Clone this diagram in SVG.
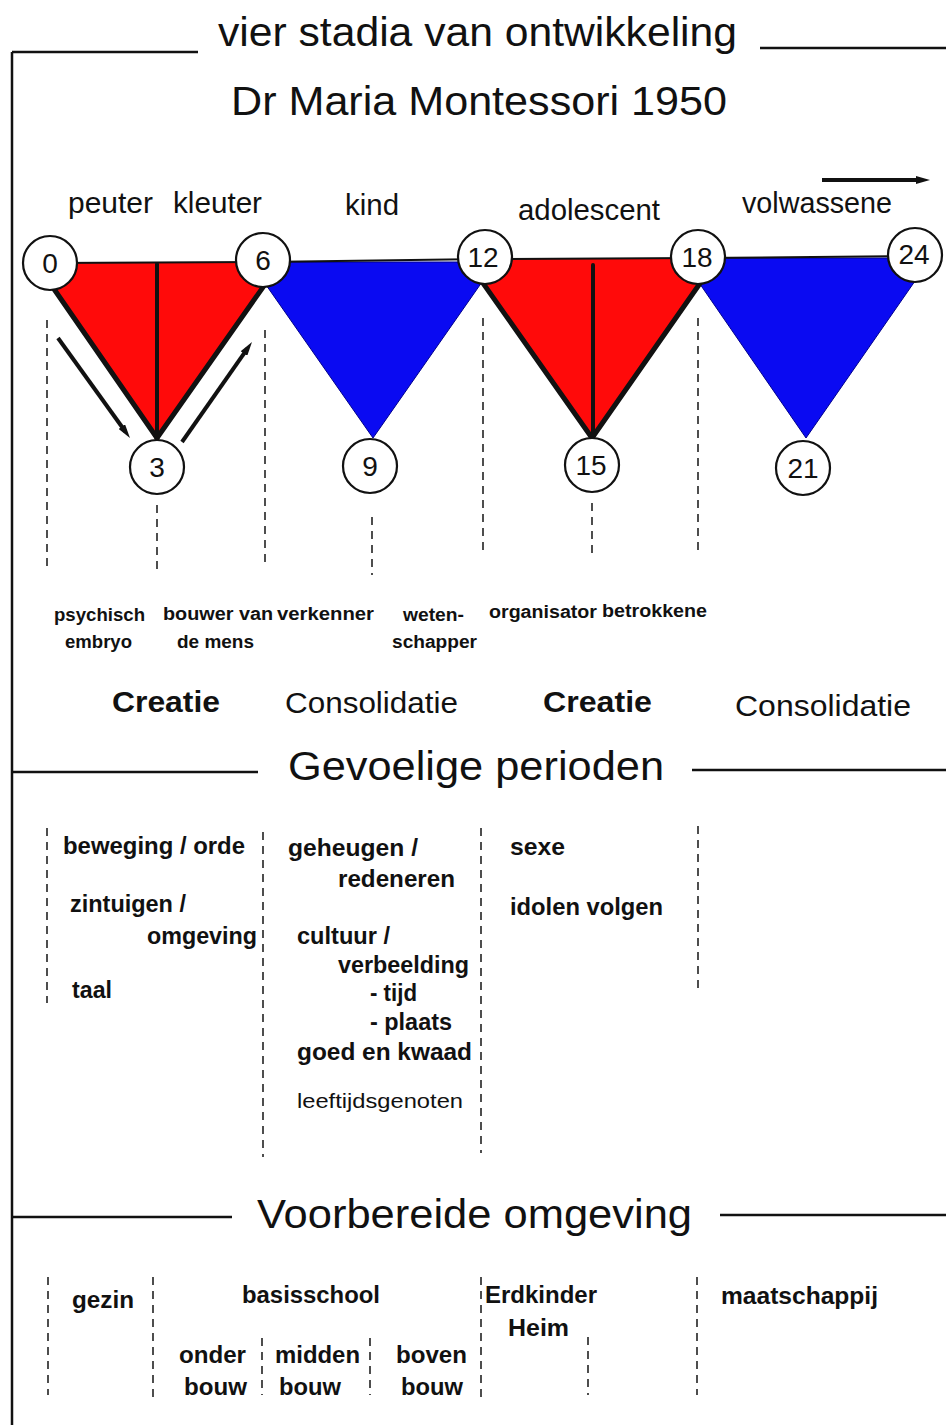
<svg xmlns="http://www.w3.org/2000/svg" width="946" height="1425" viewBox="0 0 946 1425">
<defs>
<style>
.t{font-family:"Liberation Sans",Arial,Helvetica,sans-serif;fill:#111}
.h{font-size:41px}
.lab{font-size:29px}
.role{font-size:18px;font-weight:bold}
.big{font-size:29px}
.b{font-weight:bold}
.sp{font-size:23px;font-weight:bold}
.num{font-size:28px;text-anchor:middle}
.frame{stroke:#111;stroke-width:2.5;fill:none}
.dash{stroke:#222;stroke-width:1.6;stroke-dasharray:8 6;fill:none}
.node{fill:#fff;stroke:#111;stroke-width:2.2}
.red{fill:#ff0a0a}
.blue{fill:#0a0af2;stroke:#00008c;stroke-width:1}
.edge{stroke:#111;stroke-width:5;stroke-linecap:round;fill:none}
.arr{stroke:#111;stroke-width:4;fill:none}
</style>
<marker id="ah" viewBox="0 0 14 8" refX="6" refY="4" markerWidth="14" markerHeight="8" markerUnits="userSpaceOnUse" orient="auto">
<path d="M0,0 L14,4 L0,8 z" fill="#111"/>
</marker>
</defs>
<rect width="946" height="1425" fill="#fff"/>

<g id="frame">
<line class="frame" x1="12" y1="52" x2="12" y2="1425"/>
<line class="frame" x1="12" y1="52" x2="198" y2="52"/>
<line class="frame" x1="760" y1="48" x2="946" y2="48"/>
<line class="frame" x1="12" y1="772" x2="258" y2="772"/>
<line class="frame" x1="692" y1="770" x2="946" y2="770"/>
<line class="frame" x1="12" y1="1217" x2="232" y2="1217"/>
<line class="frame" x1="720" y1="1215" x2="946" y2="1215"/>
</g>

<g id="titles">
<text class="t h" x="218" y="46" textLength="519" lengthAdjust="spacingAndGlyphs">vier stadia van ontwikkeling</text>
<text class="t h" x="231" y="115" textLength="496" lengthAdjust="spacingAndGlyphs">Dr Maria Montessori 1950</text>
<text class="t h" x="288" y="780" textLength="376" lengthAdjust="spacingAndGlyphs">Gevoelige perioden</text>
<text class="t h" x="257" y="1228" textLength="435" lengthAdjust="spacingAndGlyphs">Voorbereide omgeving</text>
</g>

<g id="stage-labels">
<text class="t lab" x="68" y="213" textLength="85" lengthAdjust="spacingAndGlyphs">peuter</text>
<text class="t lab" x="173" y="213" textLength="89" lengthAdjust="spacingAndGlyphs">kleuter</text>
<text class="t lab" x="345" y="215" textLength="54" lengthAdjust="spacingAndGlyphs">kind</text>
<text class="t lab" x="518" y="220" textLength="142" lengthAdjust="spacingAndGlyphs">adolescent</text>
<text class="t lab" x="742" y="213" textLength="150" lengthAdjust="spacingAndGlyphs">volwassene</text>
</g>

<g id="triangles">
<polygon id="tri-0-6" class="red" points="36,263 280,263 157,438"/>
<polygon id="tri-6-12" class="blue" points="250,262 496,262 373,438"/>
<polygon id="tri-12-18" class="red" points="466,259 717,259 592,438"/>
<polygon id="tri-18-24" class="blue" points="682,258 931,258 806,438"/>
<polyline points="50,263 263,262 485,259 698,258 915,256" fill="none" stroke="#111" stroke-width="2"/>
<line class="edge" x1="36" y1="263" x2="157" y2="438"/>
<line class="edge" x1="280" y1="263" x2="157" y2="438"/>
<line class="edge" x1="157" y1="264" x2="157" y2="438" style="stroke-width:4"/>
<line class="edge" x1="466" y1="259" x2="592" y2="438"/>
<line class="edge" x1="717" y1="259" x2="592" y2="438"/>
<line class="edge" x1="593" y1="265" x2="593" y2="438" style="stroke-width:4"/>
</g>

<g id="connectors">
<line class="arr" x1="58" y1="338" x2="125.3" y2="431.5" marker-end="url(#ah)"/>
<line class="arr" x1="182" y1="442" x2="247.4" y2="348.6" marker-end="url(#ah)"/>
<line class="arr" x1="822" y1="180" x2="922" y2="180" marker-end="url(#ah)"/>
</g>

<g id="node-0"><circle class="node" cx="50" cy="263" r="27"/><text class="t num" x="50" y="273">0</text></g>
<g id="node-6"><circle class="node" cx="263" cy="260" r="27"/><text class="t num" x="263" y="270">6</text></g>
<g id="node-12"><circle class="node" cx="485" cy="257" r="27"/><text class="t num" x="483" y="267">12</text></g>
<g id="node-18"><circle class="node" cx="698" cy="257" r="27"/><text class="t num" x="697" y="267">18</text></g>
<g id="node-24"><circle class="node" cx="915" cy="255" r="27"/><text class="t num" x="914" y="264">24</text></g>
<g id="node-3"><circle class="node" cx="157" cy="467" r="27"/><text class="t num" x="157" y="477">3</text></g>
<g id="node-9"><circle class="node" cx="370" cy="466" r="27"/><text class="t num" x="370" y="476">9</text></g>
<g id="node-15"><circle class="node" cx="592" cy="465" r="27"/><text class="t num" x="591" y="475">15</text></g>
<g id="node-21"><circle class="node" cx="803" cy="468" r="27"/><text class="t num" x="803" y="478">21</text></g>

<g id="guides">
<line class="dash" x1="47" y1="320" x2="47" y2="568"/>
<line class="dash" x1="265" y1="330" x2="265" y2="568"/>
<line class="dash" x1="483" y1="318" x2="483" y2="556"/>
<line class="dash" x1="698" y1="318" x2="698" y2="556"/>
<line class="dash" x1="157" y1="505" x2="157" y2="570"/>
<line class="dash" x1="372" y1="517" x2="372" y2="575"/>
<line class="dash" x1="592" y1="503" x2="592" y2="553"/>

<line class="dash" x1="47" y1="828" x2="47" y2="1003"/>
<line class="dash" x1="263" y1="832" x2="263" y2="1157"/>
<line class="dash" x1="481" y1="828" x2="481" y2="1153"/>
<line class="dash" x1="698" y1="826" x2="698" y2="993"/>

<line class="dash" x1="48" y1="1277" x2="48" y2="1395"/>
<line class="dash" x1="153" y1="1277" x2="153" y2="1397"/>
<line class="dash" x1="262" y1="1338" x2="262" y2="1395"/>
<line class="dash" x1="370" y1="1338" x2="370" y2="1395"/>
<line class="dash" x1="481" y1="1277" x2="481" y2="1397"/>
<line class="dash" x1="588" y1="1337" x2="588" y2="1395"/>
<line class="dash" x1="697" y1="1277" x2="697" y2="1395"/>
</g>

<g id="roles">
<text class="t role" x="54" y="621" textLength="91" lengthAdjust="spacingAndGlyphs">psychisch</text>
<text class="t role" x="65" y="648" textLength="67" lengthAdjust="spacingAndGlyphs">embryo</text>
<text class="t role" x="163" y="620" textLength="110" lengthAdjust="spacingAndGlyphs">bouwer van</text>
<text class="t role" x="177" y="648" textLength="77" lengthAdjust="spacingAndGlyphs">de mens</text>
<text class="t role" x="277" y="620" textLength="97" lengthAdjust="spacingAndGlyphs">verkenner</text>
<text class="t role" x="403" y="621" textLength="61" lengthAdjust="spacingAndGlyphs">weten-</text>
<text class="t role" x="392" y="648" textLength="85" lengthAdjust="spacingAndGlyphs">schapper</text>
<text class="t role" x="489" y="618" textLength="108" lengthAdjust="spacingAndGlyphs">organisator</text>
<text class="t role" x="602" y="617" textLength="105" lengthAdjust="spacingAndGlyphs">betrokkene</text>
</g>

<g id="phases">
<text class="t big b" x="112" y="712" textLength="108" lengthAdjust="spacingAndGlyphs">Creatie</text>
<text class="t big" x="285" y="713" textLength="173" lengthAdjust="spacingAndGlyphs">Consolidatie</text>
<text class="t big b" x="543" y="712" textLength="109" lengthAdjust="spacingAndGlyphs">Creatie</text>
<text class="t big" x="735" y="716" textLength="176" lengthAdjust="spacingAndGlyphs">Consolidatie</text>
</g>

<g id="sensitive-periods">
<text class="t sp" x="63" y="854" textLength="182" lengthAdjust="spacingAndGlyphs">beweging / orde</text>
<text class="t sp" x="70" y="912" textLength="116" lengthAdjust="spacingAndGlyphs">zintuigen /</text>
<text class="t sp" x="147" y="944" textLength="110" lengthAdjust="spacingAndGlyphs">omgeving</text>
<text class="t sp" x="72" y="998" textLength="40" lengthAdjust="spacingAndGlyphs">taal</text>
<text class="t sp" x="288" y="856" textLength="130" lengthAdjust="spacingAndGlyphs">geheugen /</text>
<text class="t sp" x="338" y="887" textLength="117" lengthAdjust="spacingAndGlyphs">redeneren</text>
<text class="t sp" x="297" y="944" textLength="93" lengthAdjust="spacingAndGlyphs">cultuur /</text>
<text class="t sp" x="338" y="973" textLength="131" lengthAdjust="spacingAndGlyphs">verbeelding</text>
<text class="t sp" x="370" y="1001" textLength="47" lengthAdjust="spacingAndGlyphs">- tijd</text>
<text class="t sp" x="370" y="1030" textLength="82" lengthAdjust="spacingAndGlyphs">- plaats</text>
<text class="t sp" x="297" y="1060" textLength="175" lengthAdjust="spacingAndGlyphs">goed en kwaad</text>
<text class="t" x="297" y="1108" style="font-size:21px" textLength="166" lengthAdjust="spacingAndGlyphs">leeftijdsgenoten</text>
<text class="t sp" x="510" y="855" textLength="55" lengthAdjust="spacingAndGlyphs">sexe</text>
<text class="t sp" x="510" y="915" textLength="153" lengthAdjust="spacingAndGlyphs">idolen volgen</text>
</g>

<g id="environment">
<text class="t sp" x="72" y="1308" textLength="62" lengthAdjust="spacingAndGlyphs">gezin</text>
<text class="t sp" x="242" y="1303" textLength="138" lengthAdjust="spacingAndGlyphs">basisschool</text>
<text class="t sp" x="485" y="1303" textLength="112" lengthAdjust="spacingAndGlyphs">Erdkinder</text>
<text class="t sp" x="508" y="1336" textLength="61" lengthAdjust="spacingAndGlyphs">Heim</text>
<text class="t sp" x="721" y="1304" textLength="157" lengthAdjust="spacingAndGlyphs">maatschappij</text>
<text class="t sp" x="179" y="1363" textLength="67" lengthAdjust="spacingAndGlyphs">onder</text>
<text class="t sp" x="275" y="1363" textLength="85" lengthAdjust="spacingAndGlyphs">midden</text>
<text class="t sp" x="396" y="1363" textLength="71" lengthAdjust="spacingAndGlyphs">boven</text>
<text class="t sp" x="184" y="1395" textLength="63" lengthAdjust="spacingAndGlyphs">bouw</text>
<text class="t sp" x="279" y="1395" textLength="62" lengthAdjust="spacingAndGlyphs">bouw</text>
<text class="t sp" x="401" y="1395" textLength="62" lengthAdjust="spacingAndGlyphs">bouw</text>
</g>
</svg>
